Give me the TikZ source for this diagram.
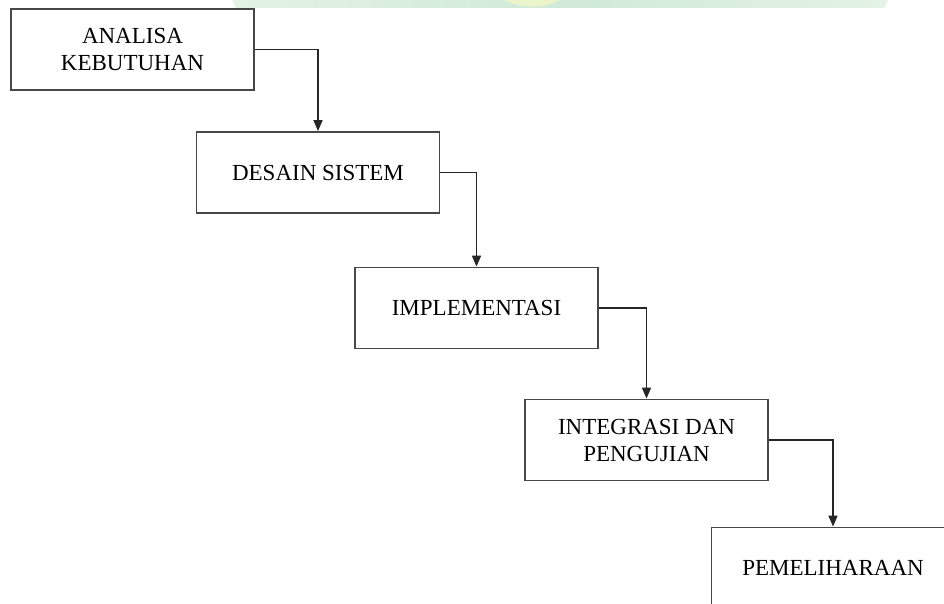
\documentclass[tikz,border=0pt]{standalone}
\usepackage{fontspec}
\setmainfont{Liberation Serif}
\usetikzlibrary{arrows.meta}
\definecolor{wmgreen}{RGB}{208,233,216}
\definecolor{wmlight}{RGB}{228,243,229}
\definecolor{wmyellow}{RGB}{236,244,204}
\tikzset{
  stage/.style={draw=black!72, line width=1.8pt, fill=white, inner sep=0pt,
    minimum width=243pt, minimum height=81pt, align=center,
    font=\fontsize{23}{27}\selectfont},
  flow/.style={draw=black!85, line width=1.6pt,
    -{Triangle[length=11pt,width=9pt]}}
}
\begin{document}
\begin{tikzpicture}[x=1pt,y=-1pt]
  \useasboundingbox (0,0) rectangle (944,604);
  \clip (0,0) rectangle (944,604);
  \fill[white] (0,0) rectangle (944,604);
  % faint background emblem along the top edge
  \shade[left color=wmlight, right color=wmgreen]
    (232,0) -- (560,0) -- (560,8) -- (236,8) -- cycle;
  \shade[left color=wmgreen, right color=wmlight]
    (560,0) -- (888,0) -- (884,8) -- (560,8) -- cycle;
  \fill[wmyellow] (505,0) .. controls (520,9) and (545,9) .. (560,0) -- cycle;
  % stages
  \node[stage] (analisa) at (132.5,49.5) {ANALISA\\KEBUTUHAN};
  \node[stage] (desain) at (318,172.5) {DESAIN SISTEM};
  \node[stage] (impl) at (476.5,308) {IMPLEMENTASI};
  \node[stage] (integrasi) at (646.5,440) {INTEGRASI DAN\\PENGUJIAN};
  \node[stage] (pemeliharaan) at (833,568) {PEMELIHARAAN};
  % connectors
  \draw[flow] (analisa.east) -| (desain.north);
  \draw[flow] (desain.east) -| (impl.north);
  \draw[flow] (impl.east) -| (integrasi.north);
  \draw[flow] (integrasi.east) -| (pemeliharaan.north);
\end{tikzpicture}
\end{document}
